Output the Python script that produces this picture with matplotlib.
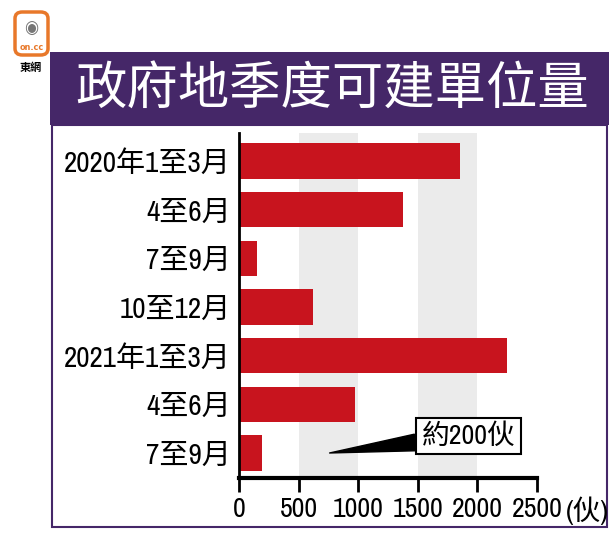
import matplotlib
matplotlib.use("Agg")
import matplotlib.pyplot as plt
from matplotlib.patches import FancyBboxPatch, Rectangle
from matplotlib import font_manager

# pick a narrow Latin font if one is installed
narrow = None
for f in font_manager.fontManager.ttflist:
    nm = f.name
    if ('Narrow' in nm or 'Condensed' in nm) and 'Mono' not in nm:
        narrow = nm
        break
if narrow is None:
    for f in font_manager.fontManager.ttflist:
        if f.stretch in ('condensed', 'semi-condensed', 'extra-condensed') or \
           (isinstance(f.stretch, int) and f.stretch < 500):
            if 'Mono' not in f.name and 'CJK' not in f.name:
                narrow = f.name
                break
if narrow is None:
    narrow = 'DejaVu Sans'
    num_size = 16
else:
    num_size = 20

plt.rcParams['font.family'] = [narrow, 'Noto Sans CJK TC']
plt.rcParams['font.stretch'] = 'condensed'

categories = ["2020年1至3月", "4至6月", "7至9月", "10至12月", "2021年1至3月", "4至6月", "7至9月"]
values = [1850, 1375, 150, 620, 2250, 975, 195]
xticks = [0, 500, 1000, 1500, 2000, 2500]
title = "政府地季度可建單位量"
unit = "(伙)"
note = "約200伙"

W, H = 609, 539
fig = plt.figure(figsize=(W / 100, H / 100), dpi=100)

def fx(px):
    return px / W

def fy(py):
    return 1 - py / H

purple = "#452768"
red = "#c8141e"
grey = "#ebebeb"

# frame
fig.patches.append(Rectangle((fx(52), fy(527)), fx(607) - fx(52), fy(125) - fy(527),
                             transform=fig.transFigure, fill=False, edgecolor=purple, lw=1.5))
# title band
fig.patches.append(Rectangle((fx(50), fy(125)), 1 - fx(50), fy(52) - fy(125),
                             transform=fig.transFigure, facecolor=purple, edgecolor='none'))
fig.text(fx(332), fy(90), title, color='white', fontsize=37, ha='center', va='center',
         family=['Noto Sans CJK TC'])

# logo
fig.patches.append(FancyBboxPatch((fx(15), fy(55)), fx(33), fy(12) - fy(55),
                                  boxstyle="round,pad=0,rounding_size=0.012",
                                  transform=fig.transFigure, facecolor='white',
                                  edgecolor='#e8782a', lw=2.5))
fig.text(fx(31.5), fy(28), "◉", color='#777777', fontsize=13, ha='center', va='center',
         family=['DejaVu Sans'])
fig.text(fx(31.5), fy(48), "on.cc", color='#e8782a', fontsize=6.5, ha='center', va='center',
         family=['DejaVu Sans'], weight='bold')
fig.text(fx(31), fy(68), "東網", color='black', fontsize=8, ha='center', va='center',
         family=['Noto Sans CJK TC'], weight='bold')

ax = fig.add_axes([fx(239), fy(478), fx(537) - fx(239), fy(133) - fy(478)])
n = len(categories)
ypos = list(range(n))
for i in range(0, len(xticks) - 1):
    if i % 2 == 1:
        ax.axvspan(xticks[i], xticks[i + 1], color=grey, zorder=0, lw=0)
ax.barh(ypos, values, height=0.72, color=red, zorder=2)
ax.set_xlim(0, 2500)
ax.set_ylim(n - 1 + 0.514, -0.575)
ax.set_yticks(ypos)
ax.set_yticklabels(categories, fontsize=21)
ax.set_xticks(xticks)
ax.set_xticklabels([str(t) for t in xticks], fontsize=num_size)
for s in ['top', 'right']:
    ax.spines[s].set_visible(False)
ax.spines['left'].set_linewidth(2)
ax.spines['bottom'].set_linewidth(3)
ax.tick_params(axis='y', length=0, pad=6)
ax.tick_params(axis='x', length=10, width=2, direction='out', pad=4)
ax.patch.set_alpha(0)

fig.text(fx(566), fy(511), unit, fontsize=20, ha='left', va='center')

# annotation
ax.annotate(note, xy=(760, 6.0), xytext=(1925, 5.65), fontsize=20, ha='center', va='center',
            bbox=dict(boxstyle='square,pad=0.2', fc='white', ec='black', lw=1.5),
            arrowprops=dict(arrowstyle='wedge,tail_width=0.6', fc='black', ec='black',
                            shrinkA=0, shrinkB=0), zorder=5)

fig.savefig("out.png", dpi=100)
